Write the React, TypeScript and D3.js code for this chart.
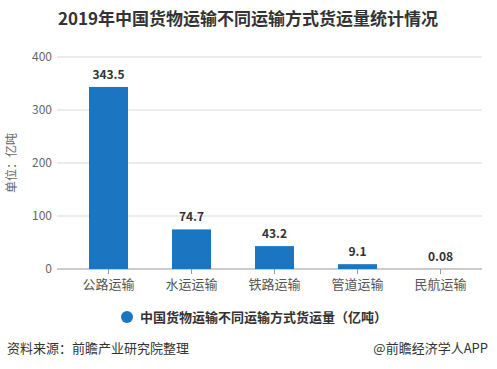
import React from "react";
import * as d3 from "d3";

const categories = ["公路运输", "水运运输", "铁路运输", "管道运输", "民航运输"];
const values = [343.5, 74.7, 43.2, 9.1, 0.08];
const valueLabels = ["343.5", "74.7", "43.2", "9.1", "0.08"];
const yTicks = [0, 100, 200, 300, 400];
const seriesName = "中国货物运输不同运输方式货运量（亿吨）";
const title = "2019年中国货物运输不同运输方式货运量统计情况";
const yTitle = "单位：亿吨";
const source = "资料来源：前瞻产业研究院整理";
const credit = "@前瞻经济学人APP";

const W = 497;
const H = 369;
const FONT = "'Microsoft YaHei', 'Noto Sans CJK SC', 'Noto Sans', sans-serif";
const BAR = "#1b75c1";

export default function App() {
  const x = d3.scaleBand<string>().domain(categories).range([67, 482]).paddingInner(0.53).paddingOuter(0.265);
  const y = d3.scaleLinear().domain([0, 400]).range([269, 57]);
  const gx0 = 57;
  const gx1 = 482;
  return (
    <svg width={W} height={H} style={{ position: "absolute", left: 0, top: 0, background: "#fff" }} fontFamily={FONT}>
      <text x={248} y={25} textAnchor="middle" fontSize={17} fontWeight="bold" fill="#333">{title}</text>
      {yTicks.map((t) => (
        <g key={t}>
          <line x1={gx0} x2={gx1} y1={y(t)} y2={y(t)} stroke={t === 0 ? "#999" : "#d9d9d9"} strokeWidth={1} />
          <text x={52} y={y(t) + 4} textAnchor="end" fontSize={12} fill="#666">{t}</text>
        </g>
      ))}
      <text transform={`translate(16,${163}) rotate(-90)`} textAnchor="middle" fontSize={12} fill="#666">{yTitle}</text>
      {categories.map((c, i) => {
        const bx = x(c)!;
        const bw = x.bandwidth();
        const cx = bx + bw / 2;
        return (
          <g key={c}>
            <rect x={bx} y={y(values[i])} width={bw} height={y(0) - y(values[i])} fill={BAR} />
            <text x={cx} y={y(values[i]) - 8} textAnchor="middle" fontSize={12} fontWeight="bold" fill="#333">{valueLabels[i]}</text>
            <line x1={cx} x2={cx} y1={269} y2={274} stroke="#999" />
            <text x={cx} y={289} textAnchor="middle" fontSize={13} fill="#555">{c}</text>
          </g>
        );
      })}
      <circle cx={127} cy={317} r={6} fill={BAR} />
      <text x={140} y={322} fontSize={13} fontWeight="bold" fill="#333">{seriesName}</text>
      <text x={7} y={353} fontSize={13} fill="#333">{source}</text>
      <text x={488} y={353} textAnchor="end" fontSize={13} fill="#333">{credit}</text>
    </svg>
  );
}
